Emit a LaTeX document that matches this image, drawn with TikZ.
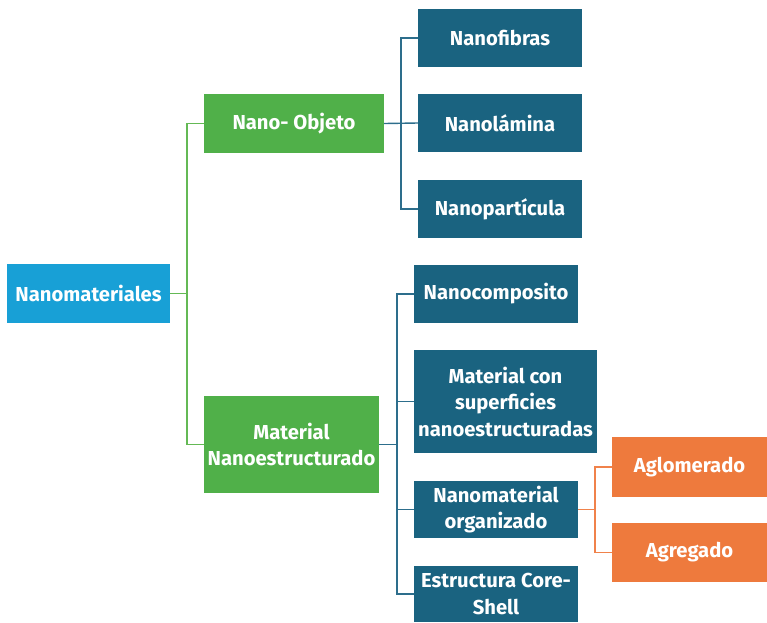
\documentclass[tikz,border=0pt]{standalone}
\usepackage{fontspec}
\setmainfont{Fira Sans}
\definecolor{cLB}{RGB}{24,160,214}
\definecolor{cGR}{RGB}{80,176,73}
\definecolor{cDB}{RGB}{26,99,128}
\definecolor{cOR}{RGB}{238,122,61}
\definecolor{lGR}{RGB}{100,185,85}
\definecolor{lDB}{RGB}{45,110,140}
\definecolor{lOR}{RGB}{240,130,75}
\begin{document}
\begin{tikzpicture}[x=1pt,y=-1pt,
  box/.style={rectangle,inner sep=0pt,text=white,align=center,
    font=\fontsize{20.2}{26.5}\selectfont\bfseries},
  lb/.style={box,fill=cLB},
  gb/.style={box,fill=cGR},
  db/.style={box,fill=cDB},
  ob/.style={box,fill=cOR},
  gl/.style={draw=lGR,line width=1.4pt},
  bl/.style={draw=lDB,line width=1.4pt},
  ol/.style={draw=lOR,line width=1.4pt}]
\useasboundingbox (0,0) rectangle (767,622);
\node[lb,minimum width=163pt,minimum height=59pt] (nm) at (88.5,293.5) {Nanomateriales};
\node[gb,minimum width=180pt,minimum height=59pt] (no) at (294,123.5) {Nano- Objeto};
\node[db,minimum width=164pt,minimum height=58pt] (nf) at (500,38) {Nanofibras};
\node[db,minimum width=164pt,minimum height=58pt] (nl) at (500,123) {Nanolámina};
\node[db,minimum width=164pt,minimum height=58pt] (np) at (500,209) {Nanopartícula};
\node[gb,minimum width=175pt,minimum height=97pt] (mn) at (291.5,444.5) {Material\\Nanoestructurado};
\node[db,minimum width=164pt,minimum height=58pt] (nc) at (496,294) {Nanocomposito};
\node[db,minimum width=183pt,minimum height=103pt] (ms) at (505.5,401.5) {Material con\\superficies\\nanoestructuradas};
\node[db,minimum width=164pt,minimum height=57pt] (mo) at (496,509.5) {Nanomaterial\\organizado};
\node[db,minimum width=164pt,minimum height=56pt] (cs) at (496,594) {Estructura Core-\\Shell};
\node[ob,minimum width=155pt,minimum height=60pt] (ag) at (689.5,467) {Aglomerado};
\node[ob,minimum width=155pt,minimum height=59pt] (gr) at (689.5,552.5) {Agregado};
% green connectors
\coordinate (g0) at (187,293.5);
\draw[gl] (nm.east) -- (g0);
\draw[gl] (g0) |- (no.west);
\draw[gl] (g0) |- (mn.west);
% blue connectors from Nano-Objeto
\coordinate (b0) at (401,123.5);
\draw[bl] (no.east) -- (nl.west);
\draw[bl] (b0) |- (nf.west);
\draw[bl] (b0) |- (np.west);
% blue connectors from Material Nanoestructurado
\coordinate (b1) at (397,444.5);
\draw[bl] (mn.east) -- (b1);
\draw[bl] (b1) |- (nc.west);
\draw[bl] (b1) |- (ms.west);
\draw[bl] (b1) |- (mo.west);
\draw[bl] (b1) |- (cs.west);
% orange connectors
\coordinate (o0) at (595,509.5);
\draw[ol] (mo.east) -- (o0);
\draw[ol] (o0) |- (ag.west);
\draw[ol] (o0) |- (gr.west);
\end{tikzpicture}
\end{document}
